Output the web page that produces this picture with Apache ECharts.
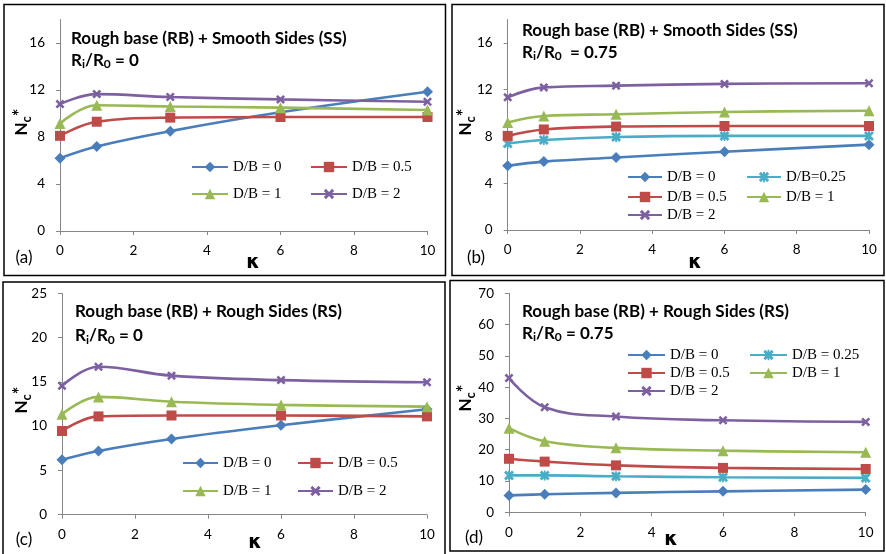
<!DOCTYPE html>
<html>
<head>
<meta charset="utf-8">
<script src="https://cdn.jsdelivr.net/npm/echarts@6/dist/echarts.min.js"></script>
<style>
  html, body { margin: 0; padding: 0; background: #ffffff; }
  #chart { width: 886px; height: 554px; }
</style>
</head>
<body>
<div id="chart"></div>
<script>
// Footing depth ratio κ (x values shared by every panel)
const kappa = [0, 1, 3, 6, 10];
const kappaTicks = [0, 2, 4, 6, 8, 10];

// (a) Rough base + smooth sides, Ri/R0 = 0
const a_db0  = [6.2, 7.2, 8.5, 10.1, 11.85];
const a_db05 = [8.1, 9.3, 9.65, 9.7, 9.7];
const a_db1  = [9.15, 10.7, 10.6, 10.5, 10.3];
const a_db2  = [10.8, 11.65, 11.4, 11.2, 11.0];

// (b) Rough base + smooth sides, Ri/R0 = 0.75
const b_db0   = [5.5, 5.85, 6.2, 6.7, 7.3];
const b_db025 = [7.4, 7.7, 7.95, 8.05, 8.05];
const b_db05  = [8.05, 8.6, 8.85, 8.9, 8.9];
const b_db1   = [9.2, 9.75, 9.9, 10.1, 10.2];
const b_db2   = [11.35, 12.2, 12.35, 12.5, 12.55];

// (c) Rough base + rough sides, Ri/R0 = 0
const c_db0  = [6.2, 7.2, 8.55, 10.1, 11.9];
const c_db05 = [9.45, 11.1, 11.2, 11.2, 11.1];
const c_db1  = [11.35, 13.3, 12.75, 12.4, 12.2];
const c_db2  = [14.55, 16.7, 15.7, 15.2, 14.95];

// (d) Rough base + rough sides, Ri/R0 = 0.75
const d_db0   = [5.4, 5.75, 6.2, 6.7, 7.25];
const d_db025 = [11.8, 11.8, 11.5, 11.2, 11.0];
const d_db05  = [17.1, 16.2, 15.0, 14.2, 13.85];
const d_db1   = [26.9, 22.7, 20.6, 19.7, 19.2];
const d_db2   = [42.9, 33.6, 30.6, 29.4, 28.9];

// Tick labels on the N_c* axes
const ssTicks = [0, 4, 8, 12, 16];
const rsTicksC = [0, 5, 10, 15, 20, 25];
const rsTicksD = [0, 10, 20, 30, 40, 50, 60, 70];

// Marker shapes
const X_SHAPE = 'M0,2L2,0L5,3L8,0L10,2L7,5L10,8L8,10L5,7L2,10L0,8L3,5Z';
const STAR_SHAPE = X_SHAPE + 'M4.1,0L5.9,0L5.9,10L4.1,10Z';

const styles = {
  db0:   { color: '#4A7EBB', symbol: 'diamond', size: 11 },
  db025: { color: '#4BACC6', symbol: 'path://' + STAR_SHAPE, size: 10 },
  db05:  { color: '#BE4B48', symbol: 'rect', size: 10 },
  db1:   { color: '#98B954', symbol: 'triangle', size: 11 },
  db2:   { color: '#7D60A0', symbol: 'path://' + X_SHAPE, size: 9 }
};

function pts(vals) { return kappa.map((k, i) => [k, vals[i]]); }

function line(panel, name, key, vals) {
  const s = styles[key];
  return {
    type: 'line', name: name,
    xAxisIndex: panel, yAxisIndex: panel,
    data: pts(vals),
    smooth: 0.4,
    symbol: s.symbol, symbolSize: s.size,
    lineStyle: { width: 2.6, color: s.color },
    itemStyle: { color: s.color },
    emphasis: { disabled: true },
    z: 3
  };
}

const series = [
  line(0, 'D/B = 0', 'db0', a_db0),
  line(0, 'D/B = 0.5', 'db05', a_db05),
  line(0, 'D/B = 1', 'db1', a_db1),
  line(0, 'D/B = 2', 'db2', a_db2),

  line(1, 'D/B = 0', 'db0', b_db0),
  line(1, 'D/B=0.25', 'db025', b_db025),
  line(1, 'D/B = 0.5', 'db05', b_db05),
  line(1, 'D/B = 1', 'db1', b_db1),
  line(1, 'D/B = 2', 'db2', b_db2),

  line(2, 'D/B = 0', 'db0', c_db0),
  line(2, 'D/B = 0.5', 'db05', c_db05),
  line(2, 'D/B = 1', 'db1', c_db1),
  line(2, 'D/B = 2', 'db2', c_db2),

  line(3, 'D/B = 0', 'db0', d_db0),
  line(3, 'D/B = 0.25', 'db025', d_db025),
  line(3, 'D/B = 0.5', 'db05', d_db05),
  line(3, 'D/B = 1', 'db1', d_db1),
  line(3, 'D/B = 2', 'db2', d_db2)
];

const AXIS_GRAY = '#868686';
const LABEL_FONT = { fontFamily: 'Lato', fontSize: 13.5, color: '#000' };

function xAxis(grid) {
  return {
    type: 'value', gridIndex: grid, min: 0, max: 10, interval: 2,
    axisLine: { show: true, onZero: false, lineStyle: { color: AXIS_GRAY, width: 1 } },
    axisTick: { show: true, length: 4, lineStyle: { color: AXIS_GRAY } },
    axisLabel: Object.assign({ margin: 13, customValues: kappaTicks }, LABEL_FONT),
    splitLine: { show: false }
  };
}

function yAxis(grid, max, interval, ticks) {
  return {
    type: 'value', gridIndex: grid, min: 0, max: max, interval: interval,
    axisLine: { show: true, onZero: false, lineStyle: { color: AXIS_GRAY, width: 1 } },
    axisTick: { show: true, length: 4, lineStyle: { color: AXIS_GRAY }, customValues: ticks },
    axisLabel: Object.assign({ margin: 15, customValues: ticks }, LABEL_FONT),
    splitLine: { show: false }
  };
}

function legendItem(name, left, top, itemWidth) {
  return {
    data: [name], left: left, top: top, padding: 0,
    itemWidth: itemWidth, itemHeight: 13, itemGap: 0,
    selectedMode: false,
    textStyle: { fontFamily: 'Liberation Serif', fontSize: 15, color: '#000' }
  };
}

const legends = [
  legendItem('D/B = 0', 191, 159.5, 36),
  legendItem('D/B = 0.5', 310, 159.5, 36),
  legendItem('D/B = 1', 191, 186.5, 36),
  legendItem('D/B = 2', 310, 186.5, 36),

  legendItem('D/B = 0', 627, 169.5, 34),
  legendItem('D/B=0.25', 746, 169.5, 34),
  legendItem('D/B = 0.5', 627, 189.5, 34),
  legendItem('D/B = 1', 746, 189.5, 34),
  legendItem('D/B = 2', 627, 207.5, 34),

  legendItem('D/B = 0', 182, 455.5, 35),
  legendItem('D/B = 0.5', 297, 455.5, 35),
  legendItem('D/B = 1', 182, 483.5, 35),
  legendItem('D/B = 2', 297, 483.5, 35),

  legendItem('D/B = 0', 627, 347.5, 37),
  legendItem('D/B = 0.25', 749, 347.5, 37),
  legendItem('D/B = 0.5', 627, 365.5, 37),
  legendItem('D/B = 1', 749, 365.5, 37),
  legendItem('D/B = 2', 627, 383.5, 37)
];

// Heading text for each panel
const TITLE_FONT = 'Lato';
const titleRich = {
  b: { fontFamily: TITLE_FONT, fontWeight: 'bold', fontSize: 17, lineHeight: 20, fill: '#000' },
  s: { fontFamily: TITLE_FONT, fontWeight: 'bold', fontSize: 12, lineHeight: 10, verticalAlign: 'bottom', fill: '#000' }
};

function heading(x, y1, y2, line1, ratio) {
  return [
    { type: 'text', x: x, y: y1, silent: true,
      style: { text: line1, fontFamily: TITLE_FONT, fontWeight: 'bold', fontSize: 17, fill: '#000', verticalAlign: 'middle' } },
    { type: 'text', x: x, y: y2, silent: true,
      style: { text: '{b|R}{s|i}{b|/R}{s|0}{b|' + ratio + '}', rich: titleRich, verticalAlign: 'middle' } }
  ];
}

const ncRich = {
  n: { fontFamily: TITLE_FONT, fontWeight: 'bold', fontSize: 17, lineHeight: 22, fill: '#000' },
  c: { fontFamily: TITLE_FONT, fontWeight: 'bold', fontSize: 13, lineHeight: 10, verticalAlign: 'bottom', fill: '#000' },
  a: { fontFamily: TITLE_FONT, fontWeight: 'bold', fontSize: 18, lineHeight: 12, verticalAlign: 'top', fill: '#000' }
};

function ncLabel(x, y) {
  return { type: 'text', x: x, y: y, rotation: Math.PI / 2, silent: true,
    style: { text: '{n|N}{c|c}{a|*}', rich: ncRich, align: 'center', verticalAlign: 'middle' } };
}

function kLabel(x, y) {
  return { type: 'text', x: x, y: y, silent: true,
    style: { text: 'κ', fontFamily: 'DejaVu Sans', fontWeight: 'bold', fontSize: 19, fill: '#000', align: 'center', verticalAlign: 'middle' } };
}

function panelTag(x, y, tag) {
  return { type: 'text', x: x, y: y, silent: true,
    style: { text: tag, fontFamily: 'Lato', fontSize: 17, fill: '#000', align: 'center', verticalAlign: 'middle' } };
}

function frame(x, y, w, h) {
  return { type: 'rect', silent: true, z: 0,
    shape: { x: x, y: y, width: w, height: h },
    style: { fill: 'none', stroke: '#000', lineWidth: 1.5 } };
}

const graphics = [
  frame(4, 4.5, 441.5, 271),
  frame(452, 4.5, 432, 271),
  frame(3, 282, 442, 276),
  frame(450, 280.5, 434, 270.5),

  ...heading(71, 39, 60.5, 'Rough base (RB) + Smooth Sides (SS)', ' = 0'),
  ...heading(522, 30.5, 52.5, 'Rough base (RB) + Smooth Sides (SS)', '  = 0.75'),
  ...heading(75, 312, 336, 'Rough base (RB) + Rough Sides (RS)', ' = 0'),
  ...heading(522, 312, 333.5, 'Rough base (RB) + Rough Sides (RS)', ' = 0.75'),

  ncLabel(22, 122),
  ncLabel(466, 122),
  ncLabel(22, 400),
  ncLabel(466, 398),

  kLabel(253, 263),
  kLabel(695, 263),
  kLabel(255, 543),
  kLabel(671, 540),

  panelTag(24, 258, '(a)'),
  panelTag(476, 258, '(b)'),
  panelTag(24, 540, '(c)'),
  panelTag(474, 538, '(d)')
];

const chart = echarts.init(document.getElementById('chart'), null, { renderer: 'canvas' });
chart.setOption({
  animation: false,
  backgroundColor: '#ffffff',
  grid: [
    { left: 60, top: 19.5, width: 367.5, height: 211.5, outerBoundsMode: 'none' },
    { left: 507.7, top: 19.6, width: 361.3, height: 210.4, outerBoundsMode: 'none' },
    { left: 62, top: 293.3, width: 365, height: 221.4, outerBoundsMode: 'none' },
    { left: 509, top: 293.3, width: 356.7, height: 219, outerBoundsMode: 'none' }
  ],
  xAxis: [xAxis(0), xAxis(1), xAxis(2), xAxis(3)],
  yAxis: [
    yAxis(0, 18, 2, ssTicks),
    yAxis(1, 18, 2, ssTicks),
    yAxis(2, 25, 5, rsTicksC),
    yAxis(3, 70, 10, rsTicksD)
  ],
  legend: legends,
  graphic: { elements: graphics },
  series: series
});
</script>
</body>
</html>
